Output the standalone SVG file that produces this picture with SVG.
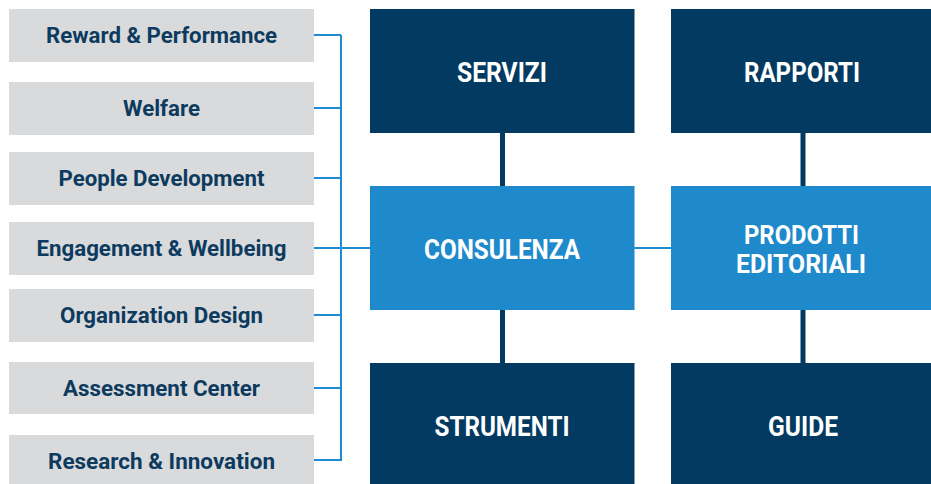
<svg xmlns="http://www.w3.org/2000/svg" width="931" height="484" viewBox="0 0 931 484">
<style>
.side rect{fill:#d9dadb}
.side text{font-family:Roboto,"Liberation Sans",sans-serif;font-weight:700;font-size:22px;fill:#0d3a5f;text-anchor:middle}
.dark rect{fill:#023a61}
.light rect{fill:#1e89cb}
.box text{font-family:Roboto,"Liberation Sans",sans-serif;font-weight:700;font-size:27px;fill:#ffffff;text-anchor:middle}
.box text.two{font-size:25px}
.blue{stroke:#1f8bd2;stroke-width:2;fill:none}
.navy{stroke:#023a61;stroke-width:5;fill:none}
</style>
<rect width="931" height="484" fill="#ffffff"/>
<g id="connectors">
<path class="blue" d="M314 35H341M314 108H341M314 178H341M314 315H341M314 388H341M314 248H370M341 35V460H314"/>
<path class="blue" d="M634 248H671"/>
<path class="navy" d="M502.5 133V187M502.5 310V363M803 133V187M803 310V363"/>
</g>
<g id="n-reward" class="side"><rect x="9" y="9" width="305" height="53"/><text x="161.5" y="43.3" textLength="231" lengthAdjust="spacingAndGlyphs">Reward &amp; Performance</text></g>
<g id="n-welfare" class="side"><rect x="9" y="82" width="305" height="53"/><text x="161.5" y="115.7" textLength="77" lengthAdjust="spacingAndGlyphs">Welfare</text></g>
<g id="n-people" class="side"><rect x="9" y="152" width="305" height="53"/><text x="161.5" y="186" textLength="206" lengthAdjust="spacingAndGlyphs">People Development</text></g>
<g id="n-engagement" class="side"><rect x="9" y="222" width="305" height="53"/><text x="161.5" y="256" textLength="250" lengthAdjust="spacingAndGlyphs">Engagement &amp; Wellbeing</text></g>
<g id="n-organization" class="side"><rect x="9" y="289" width="305" height="53"/><text x="161.5" y="323" textLength="203" lengthAdjust="spacingAndGlyphs">Organization Design</text></g>
<g id="n-assessment" class="side"><rect x="9" y="362" width="305" height="52"/><text x="161.5" y="395.5" textLength="197" lengthAdjust="spacingAndGlyphs">Assessment Center</text></g>
<g id="n-research" class="side"><rect x="9" y="435" width="305" height="53"/><text x="161.5" y="469" textLength="227" lengthAdjust="spacingAndGlyphs">Research &amp; Innovation</text></g>
<g id="n-servizi" class="box dark"><rect x="370" y="9" width="264.5" height="124"/><text x="502" y="82" textLength="90" lengthAdjust="spacingAndGlyphs">SERVIZI</text></g>
<g id="n-rapporti" class="box dark"><rect x="671" y="9" width="260" height="124"/><text x="802" y="82" textLength="116" lengthAdjust="spacingAndGlyphs">RAPPORTI</text></g>
<g id="n-consulenza" class="box light"><rect x="370" y="186" width="264.5" height="124"/><text x="502" y="259" textLength="156" lengthAdjust="spacingAndGlyphs">CONSULENZA</text></g>
<g id="n-prodotti" class="box light"><rect x="671" y="186" width="260" height="124"/><text class="two" x="801.5" y="244.3" textLength="115" lengthAdjust="spacingAndGlyphs">PRODOTTI</text><text class="two" x="801" y="272.7" textLength="130" lengthAdjust="spacingAndGlyphs">EDITORIALI</text></g>
<g id="n-strumenti" class="box dark"><rect x="370" y="363" width="264.5" height="121"/><text x="502" y="436" textLength="135" lengthAdjust="spacingAndGlyphs">STRUMENTI</text></g>
<g id="n-guide" class="box dark"><rect x="671" y="363" width="260" height="121"/><text x="803" y="436" textLength="70" lengthAdjust="spacingAndGlyphs">GUIDE</text></g>
</svg>
